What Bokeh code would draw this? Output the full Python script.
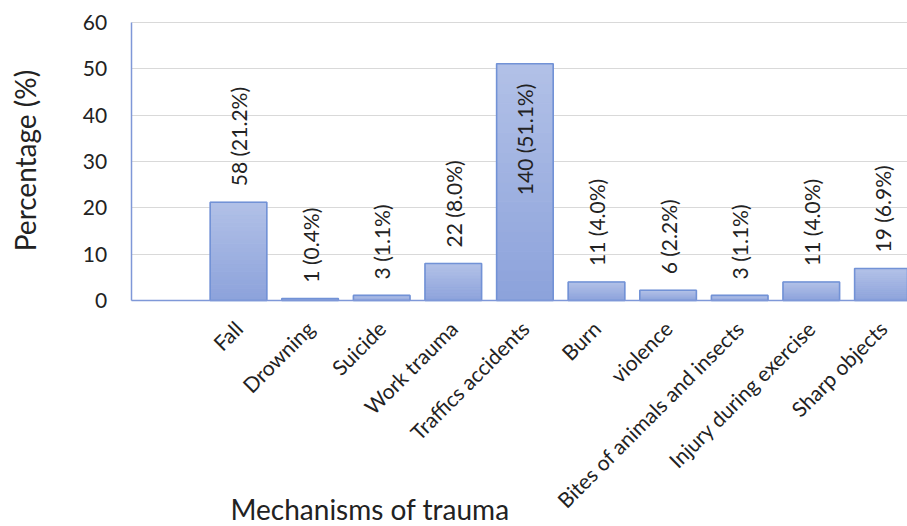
import math
from bokeh.plotting import figure
from bokeh.models import ColumnDataSource, Range1d, FixedTicker, Label, Grid
from bokeh.core.properties import value
from bokeh.embed import file_html
from bokeh.resources import INLINE

categories = ["Fall", "Drowning", "Suicide", "Work trauma", "Traffics accidents",
              "Burn", "violence", "Bites of animals and insects",
              "Injury during exercise", "Sharp objects"]
counts = [58, 1, 3, 22, 140, 11, 6, 3, 11, 19]
percentages = [21.2, 0.4, 1.1, 8.0, 51.1, 4.0, 2.2, 1.1, 4.0, 6.9]
y_ticks = [0, 10, 20, 30, 40, 50, 60]

FONT = "Lato"
TXT = "#222222"
W, H = 907, 526
positions = list(range(1, len(categories) + 1))  # slot 0 is empty in the original
labels = [f"{c} ({p:.1f}%)" for c, p in zip(counts, percentages)]

# layout geometry (pixels) -> data ranges; the frame covers the whole canvas
SLOT_PX = 71.6          # width of one category slot
AXIS_X_PX = 130.6       # position of the value axis
ZERO_Y_PX = 300.0       # position of the category axis
TOP_Y_PX = 22.0         # position of the 60 % gridline
ppu = (ZERO_Y_PX - TOP_Y_PX) / (y_ticks[-1] - y_ticks[0])
x_start = -0.5 - AXIS_X_PX / SLOT_PX
x_end = -0.5 + (W - AXIS_X_PX) / SLOT_PX
y_start = -(H - ZERO_Y_PX) / ppu
y_end = y_ticks[-1] + TOP_Y_PX / ppu

# gradient fill (dark at bottom, light at top) built as thin slices of each bar
N = 24
top_rgb = (0xB2, 0xC1, 0xE7)
bot_rgb = (0x8C, 0xA2, 0xDB)
gx, gb, gt, gc = [], [], [], []
for xpos, v in zip(positions, percentages):
    for k in range(N):
        f = (k + 0.5) / N
        rgb = tuple(round(b + (t - b) * f) for b, t in zip(bot_rgb, top_rgb))
        gx.append(xpos)
        gb.append(v * k / N)
        gt.append(v * (k + 1) / N)
        gc.append("#%02x%02x%02x" % rgb)
grad = ColumnDataSource(dict(x=gx, bottom=gb, top=gt, color=gc))

src = ColumnDataSource(dict(x=positions, top=percentages))
outside = [i for i, p in enumerate(percentages) if p <= 35]
inside = [i for i, p in enumerate(percentages) if p > 35]
src_out = ColumnDataSource(dict(x=[positions[i] for i in outside],
                                y=[percentages[i] for i in outside],
                                label=[labels[i] for i in outside]))
src_in = ColumnDataSource(dict(x=[positions[i] for i in inside],
                               y=[percentages[i] for i in inside],
                               label=[labels[i] for i in inside]))

p = figure(width=W, height=H, output_backend="svg", toolbar_location=None,
           x_range=Range1d(x_start, x_end), y_range=Range1d(y_start, y_end),
           min_border=0)
p.outline_line_color = None
p.background_fill_color = "white"
p.border_fill_color = "white"

# gridlines
p.xgrid.grid_line_color = None
if "cross_bounds" in Grid.properties():
    p.ygrid.cross_bounds = (-0.5, x_end)
    p.ygrid.grid_line_color = "#d9d9d9"
    p.ygrid.grid_line_width = 1.2
else:
    p.ygrid.grid_line_color = None
    p.segment(x0=-0.5, x1=x_end, y0=y_ticks, y1=y_ticks,
              line_color="#d9d9d9", line_width=1.2, level="underlay")

p.vbar(x="x", top="top", bottom="bottom", width=0.79, source=grad,
       fill_color="color", line_color="color", line_width=1)
p.vbar(x="x", top="top", bottom=0, width=0.79, source=src,
       fill_color=None, line_color="#7292d6", line_width=1.6)

p.text(x="x", y="y", text="label", source=src_out, angle=math.pi / 2,
       text_align="left", text_baseline="middle", y_offset=-16,
       text_font=value(FONT), text_font_size="21px", text_color=TXT)
p.text(x="x", y="y", text="label", source=src_in, angle=math.pi / 2,
       text_align="right", text_baseline="middle", y_offset=20,
       text_font=value(FONT), text_font_size="21px", text_color=TXT)

# value axis
p.yaxis.fixed_location = -0.5
p.yaxis.bounds = (y_ticks[0], y_ticks[-1])
p.yaxis.ticker = FixedTicker(ticks=y_ticks)
p.yaxis.axis_line_color = "#7f98d8"
p.yaxis.axis_line_width = 1.5
p.yaxis.major_tick_line_color = None
p.yaxis.minor_tick_line_color = None
p.yaxis.major_label_standoff = 18
p.yaxis.major_label_text_font = FONT
p.yaxis.major_label_text_font_size = "21px"
p.yaxis.major_label_text_color = TXT

# category axis
p.xaxis.fixed_location = 0
p.xaxis.bounds = (-0.5, x_end)
p.xaxis.ticker = FixedTicker(ticks=positions)
p.xaxis.major_label_overrides = {pos: cat for pos, cat in zip(positions, categories)}
p.xaxis.major_label_orientation = math.pi / 4
p.xaxis.axis_line_color = "#7f98d8"
p.xaxis.axis_line_width = 1.5
p.xaxis.major_tick_line_color = None
p.xaxis.minor_tick_line_color = None
p.xaxis.major_label_standoff = 18
p.xaxis.major_label_text_font = FONT
p.xaxis.major_label_text_font_size = "21px"
p.xaxis.major_label_text_color = TXT

# axis titles
ytitle = Label(x=24, y=H - 160, x_units="screen", y_units="screen",
               angle=math.pi / 2, text="Percentage (%)", text_font=FONT,
               text_font_size="28px", text_color=TXT,
               text_align="center", text_baseline="middle")
xtitle = Label(x=230, y=1, x_units="screen", y_units="screen",
               text="Mechanisms of trauma", text_font=FONT,
               text_font_size="28px", text_color=TXT,
               text_align="left", text_baseline="bottom")
p.add_layout(ytitle)
p.add_layout(xtitle)

open("out.html", "w").write(file_html(p, INLINE))
